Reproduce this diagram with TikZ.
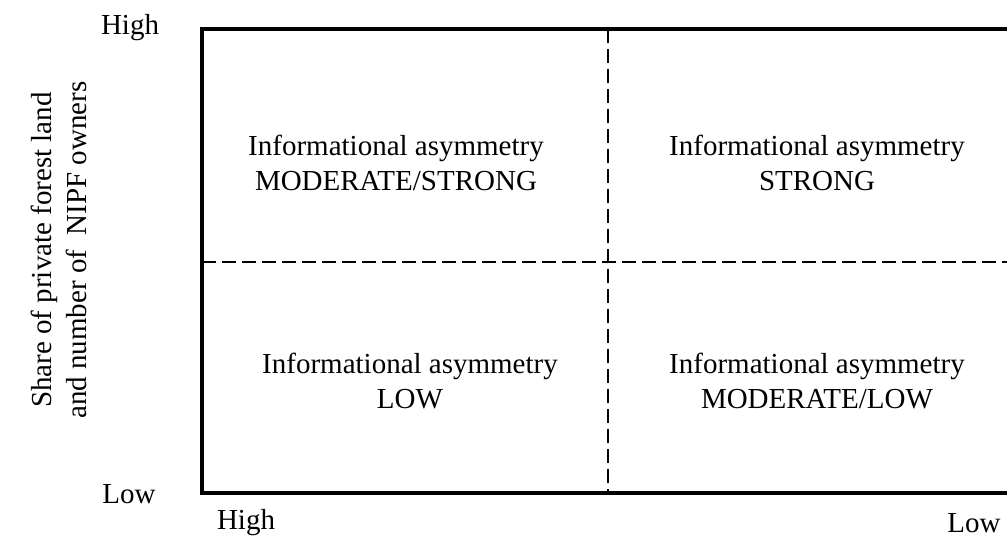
\documentclass[tikz,border=0pt]{standalone}
\usepackage{fontspec}
\setmainfont{Liberation Serif}
\begin{document}
\begin{tikzpicture}[x=1pt,y=-1pt,
  lbl/.style={inner sep=0pt,font=\fontsize{29}{35}\selectfont,align=center},
  frame/.style={line width=4.5pt},
  divider/.style={line width=1.6pt,dash pattern=on 14pt off 6pt}]
\useasboundingbox (0,0) rectangle (1007,538);
\coordinate (tl) at (202,29);
\coordinate (bl) at (202,493);
\coordinate (tr) at (1007,29);
\coordinate (br) at (1007,493);
\coordinate (vt) at (608,29);
\coordinate (vb) at (608,493);
\coordinate (hl) at (202,262);
\coordinate (hr) at (1007,262);
\draw[divider] (vt) -- (vb);
\draw[divider] (hl) -- (hr);
\draw[frame] (tr) -- (tl) -- (bl) -- (br);
\node[lbl] (c1) at (396,163) {Informational asymmetry\\MODERATE/STRONG};
\node[lbl] (c2) at (817,163) {Informational asymmetry\\STRONG};
\node[lbl] (c3) at (410,381) {Informational asymmetry\\LOW};
\node[lbl] (c4) at (817,381) {Informational asymmetry\\MODERATE/LOW};
\node[lbl] (yh) at (130,28) {High};
\node[lbl] (yl) at (129,494) {Low};
\node[lbl] (xh) at (246,523) {High};
\node[lbl] (xl) at (974,523) {Low};
\node[lbl,rotate=90] (ylab) at (59,250) {Share of private forest land\\and number of\ \ NIPF owners};
\end{tikzpicture}
\end{document}
